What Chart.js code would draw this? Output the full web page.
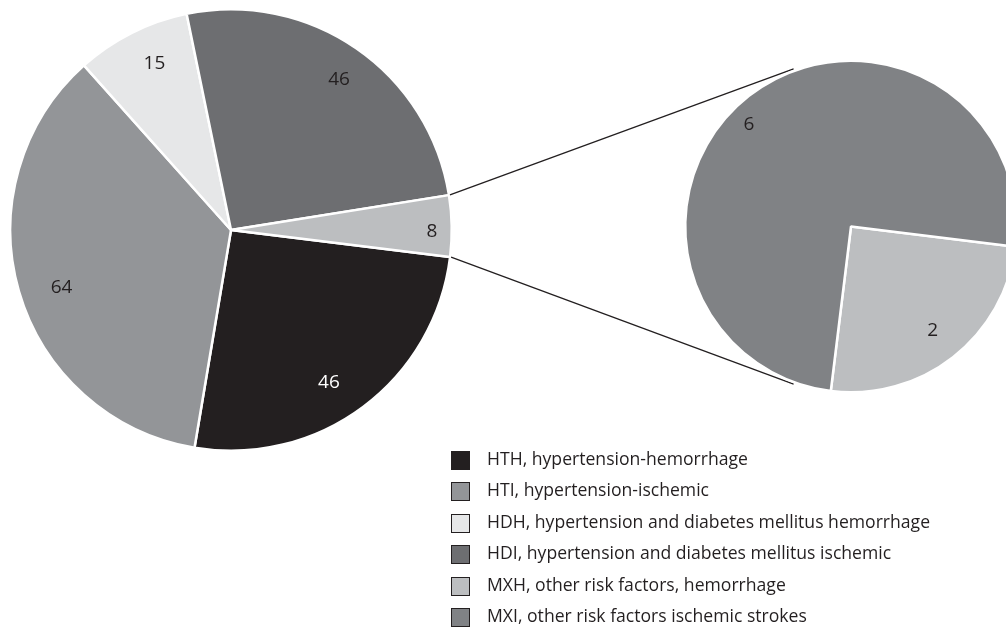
<!DOCTYPE html>
<html>
<head>
<meta charset="utf-8">
<script src="https://cdn.jsdelivr.net/npm/chart.js@4/dist/chart.umd.min.js"></script>
<style>
  html, body { margin: 0; padding: 0; background: #fff; overflow: hidden; width: 1006px; height: 631px; }
  #main, #zoom { position: absolute; left: 0; top: 0; }
  #legend { position: absolute; left: 451px; top: 446px; font-family: "Open Sans", sans-serif; font-size: 17.6px; color: #231f20; }
  #legend div { height: 31.4px; line-height: 24px; white-space: nowrap; }
  #legend span { display: inline-block; width: 17px; height: 17px; border: 1.5px solid #231f20; vertical-align: -5px; margin-right: 17px; }
</style>
</head>
<body>
<canvas id="main" width="1006" height="631"></canvas>
<canvas id="zoom" width="1040" height="631"></canvas>
<div id="legend"></div>
<script>
// main pie
var mainCodes = ['HTH', 'HTI', 'HDH', 'HDI', 'MXH'];
var mainValues = [46, 64, 15, 46, 8];
var mainColors = ['#231f20', '#939598', '#e6e7e8', '#6d6e71', '#bcbec0'];

// breakdown pie (other risk factors)
var subCodes = ['MXH', 'MXI'];
var subValues = [2, 6];
var subColors = ['#bcbec0', '#808285'];

var legendLabels = [
  'HTH, hypertension-hemorrhage',
  'HTI, hypertension-ischemic',
  'HDH, hypertension and diabetes mellitus hemorrhage',
  'HDI, hypertension and diabetes mellitus ischemic',
  'MXH, other risk factors, hemorrhage',
  'MXI, other risk factors ischemic strokes'
];
var legendColors = ['#231f20', '#939598', '#e6e7e8', '#6d6e71', '#bcbec0', '#808285'];

Chart.defaults.font.family = '"Open Sans", sans-serif';

// value labels inside the slices
var sliceLabels = {
  id: 'sliceLabels',
  afterDatasetsDraw: function (chart, args, opts) {
    var ctx = chart.ctx;
    var meta = chart.getDatasetMeta(0);
    var vals = chart.data.datasets[0].data;
    ctx.save();
    ctx.font = '19px "Open Sans", sans-serif';
    ctx.textAlign = 'center';
    ctx.textBaseline = 'middle';
    meta.data.forEach(function (arc, i) {
      var p = arc.getProps(['x', 'y', 'startAngle', 'endAngle', 'outerRadius'], true);
      var a = (p.startAngle + p.endAngle) / 2 + (opts.shift[i] || 0) * Math.PI / 180;
      var f = opts.radius[i];
      ctx.fillStyle = opts.colors[i];
      ctx.fillText(vals[i], p.x + Math.cos(a) * p.outerRadius * f, p.y + Math.sin(a) * p.outerRadius * f);
    });
    ctx.restore();
  }
};

var mainChart = new Chart(document.getElementById('main'), {
  type: 'pie',
  data: {
    labels: mainCodes,
    datasets: [{ data: mainValues, backgroundColor: mainColors, borderColor: '#fff', borderWidth: 2.5 }]
  },
  options: {
    responsive: false,
    animation: false,
    rotation: 97,
    layout: { padding: { left: 9, top: 8, right: 553, bottom: 179 } },
    plugins: {
      legend: { display: false },
      tooltip: { enabled: false },
      sliceLabels: {
        radius: [0.82, 0.81, 0.83, 0.84, 0.91],
        shift: [4, -2.5, 2, 1, 1.5],
        colors: ['#ffffff', '#231f20', '#231f20', '#231f20', '#231f20']
      }
    }
  },
  plugins: [sliceLabels]
});

// lines from the MXH slice to the breakdown pie
var connector = {
  id: 'connector',
  beforeDatasetsDraw: function (chart) {
    var src = mainChart.getDatasetMeta(0).data[4];
    var s = src.getProps(['x', 'y', 'startAngle', 'endAngle', 'outerRadius'], true);
    var arc = chart.getDatasetMeta(0).data[0];
    var d = arc.getProps(['x', 'y', 'outerRadius'], true);
    var ends = [[s.startAngle, 250], [s.endAngle, 110]];
    var ctx = chart.ctx;
    ctx.save();
    ctx.strokeStyle = '#231f20';
    ctx.lineWidth = 1.3;
    ends.forEach(function (e) {
      var b = e[1] * Math.PI / 180;
      ctx.beginPath();
      ctx.moveTo(s.x + Math.cos(e[0]) * (s.outerRadius + 1), s.y + Math.sin(e[0]) * (s.outerRadius + 1));
      ctx.lineTo(d.x + Math.cos(b) * (d.outerRadius + 2), d.y + Math.sin(b) * (d.outerRadius + 2));
      ctx.stroke();
    });
    ctx.restore();
  }
};

new Chart(document.getElementById('zoom'), {
  type: 'pie',
  data: {
    labels: subCodes,
    datasets: [{ data: subValues, backgroundColor: subColors, borderColor: '#fff', borderWidth: 2.5 }]
  },
  options: {
    responsive: false,
    animation: false,
    rotation: 97,
    layout: { padding: { left: 684, top: 59, right: 22, bottom: 237 } },
    plugins: {
      legend: { display: false },
      tooltip: { enabled: false },
      sliceLabels: {
        radius: [0.8, 0.87],
        shift: [0, -7],
        colors: ['#231f20', '#231f20']
      }
    }
  },
  plugins: [connector, sliceLabels]
});

var lg = document.getElementById('legend');
legendLabels.forEach(function (t, i) {
  var row = document.createElement('div');
  var box = document.createElement('span');
  box.style.background = legendColors[i];
  row.appendChild(box);
  row.appendChild(document.createTextNode(t));
  lg.appendChild(row);
});
</script>
</body>
</html>
